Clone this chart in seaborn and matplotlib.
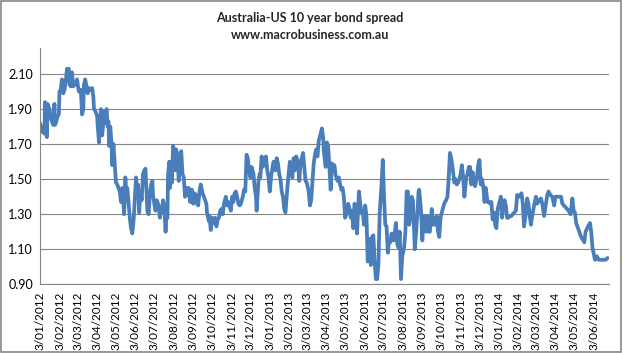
import matplotlib
matplotlib.use("Agg")
import matplotlib.pyplot as plt
import numpy as np
import pandas as pd
import seaborn as sns
from matplotlib.patches import Rectangle

sns.set_theme(style="white")
plt.rcParams['font.family'] = ['Lato', 'DejaVu Sans']

# Data: days after 3 Jan 2012 and the spread (%)
start_date = "2012-01-03"
day_offset = [
    0, 3, 5, 7, 8, 11, 12, 15, 17, 19, 21, 23, 24, 26, 28, 30, 31, 33, 35, 37,
    39, 41, 43, 46, 47, 49, 51, 53, 55, 57, 59, 61, 62, 65, 67, 69, 70, 72, 74, 76,
    78, 81, 83, 85, 86, 88, 91, 92, 94, 95, 97, 99, 101, 103, 104, 106, 108, 109, 110, 112,
    114, 115, 117, 119, 121, 123, 125, 127, 129, 131, 132, 134, 136, 138, 139, 141, 143, 145, 147, 149,
    153, 155, 156, 158, 160, 162, 164, 166, 168, 171, 173, 175, 177, 179, 180, 182, 184, 186, 189, 191,
    192, 194, 196, 198, 200, 201, 203, 204, 206, 207, 209, 210, 212, 214, 216, 217, 219, 221, 224, 225,
    227, 229, 231, 233, 235, 237, 239, 242, 244, 246, 248, 250, 252, 254, 256, 259, 261, 263, 265, 266,
    269, 270, 272, 274, 277, 279, 281, 283, 285, 287, 289, 291, 293, 296, 298, 300,
    304, 306, 308, 310, 312, 314, 316, 318, 320, 323, 325, 327, 329, 331, 333, 335, 337, 340, 342, 344,
    345, 348, 350, 351, 353, 355, 358, 360, 362, 364, 366, 368, 370, 372, 375, 377, 379, 381, 383, 385,
    387, 389, 391, 394, 396, 398, 400, 402, 404, 406, 408, 411, 413, 415, 417, 419, 421, 423, 425, 428,
    430, 432, 434, 436, 438, 440, 442, 444, 447, 449, 451,
    452, 455, 457, 459, 461, 463, 465, 467, 469, 471, 474, 476, 478, 480, 482, 484, 486, 488, 491, 493,
    495, 497, 499, 501, 503, 505, 508, 510, 512, 514, 516, 518, 520, 522, 524, 527, 529, 531, 533, 535,
    537, 539, 541, 544, 546, 548, 550, 552, 554, 556, 558, 560, 563, 565, 567, 569, 571, 573, 575, 577,
    580, 582, 584, 586, 588, 590, 592, 594, 597, 599, 601, 603,
    604, 607, 609, 611, 613, 615, 617, 619, 621, 624, 626, 628, 630, 632, 634, 636, 638, 640, 643, 645,
    647, 649, 651, 653, 655, 657, 660, 662, 664, 666, 668, 670, 672, 674, 676, 679, 681, 683, 685, 687,
    689, 691, 693, 696, 698, 700, 702, 704, 706, 708, 710, 713, 715, 717, 719, 721, 723, 725, 727, 729,
    732, 734, 736, 738, 740, 742, 744, 746, 749, 751, 753,
    758, 760, 763, 767, 769, 771, 773, 776, 778, 780, 782, 784, 787, 790, 792, 795, 798, 800, 803, 805,
    808, 810, 813, 816, 819, 821, 824, 826, 830, 832, 837, 842, 845, 848, 850, 852, 854, 858, 862, 867,
    869, 873, 876, 878, 880, 884, 887, 890, 895, 901, 904,
]
spread = [
    1.82, 1.77, 1.80, 1.76, 1.94, 1.74, 1.93, 1.90, 1.85, 1.83, 1.81, 1.93, 1.81, 1.83, 1.86, 1.87, 2.00, 2.01, 2.07, 1.99,
    2.01, 2.06, 2.13, 2.13, 2.04, 2.03, 2.11, 2.03, 2.05, 2.04, 2.07, 2.02, 2.00, 2.01, 1.87, 1.90, 2.04, 2.07, 2.03, 1.99,
    2.02, 2.01, 2.02, 1.97, 1.90, 1.89, 1.86, 1.80, 1.71, 1.80, 1.90, 1.75, 1.82, 1.89, 1.82, 1.90, 1.80, 1.83, 1.69, 1.80,
    1.70, 1.58, 1.70, 1.59, 1.48, 1.47, 1.45, 1.43, 1.37, 1.45, 1.41, 1.30, 1.51, 1.38, 1.45, 1.37, 1.28, 1.22, 1.19, 1.26,
    1.51, 1.40, 1.47, 1.31, 1.43, 1.38, 1.53, 1.55, 1.56, 1.32, 1.30, 1.41, 1.47, 1.49, 1.41, 1.36, 1.32, 1.38, 1.35, 1.28,
    1.34, 1.31, 1.38, 1.35, 1.20, 1.27, 1.28, 1.53, 1.60, 1.45, 1.59, 1.48, 1.69, 1.66, 1.55, 1.67, 1.62, 1.49, 1.65, 1.66,
    1.53, 1.51, 1.40, 1.45, 1.41, 1.45, 1.37, 1.44, 1.36, 1.42, 1.41, 1.36, 1.35, 1.43, 1.47, 1.42, 1.40, 1.38, 1.36, 1.31,
    1.26, 1.29, 1.21, 1.28, 1.25, 1.28, 1.23, 1.27, 1.28, 1.32, 1.33, 1.30, 1.36, 1.40, 1.35, 1.37,
    1.32, 1.40, 1.37, 1.42, 1.43, 1.40, 1.36, 1.35, 1.36, 1.40, 1.44, 1.43, 1.64, 1.62, 1.55, 1.51, 1.57, 1.53, 1.45, 1.40,
    1.32, 1.49, 1.53, 1.51, 1.63, 1.57, 1.62, 1.63, 1.55, 1.51, 1.43, 1.51, 1.56, 1.60, 1.55, 1.62, 1.59, 1.53, 1.50, 1.43,
    1.40, 1.33, 1.31, 1.45, 1.53, 1.60, 1.57, 1.51, 1.62, 1.55, 1.63, 1.60, 1.49, 1.59, 1.62, 1.65, 1.57, 1.49, 1.48, 1.43,
    1.35, 1.38, 1.49, 1.59, 1.64, 1.67, 1.63, 1.72, 1.76, 1.79, 1.74,
    1.66, 1.57, 1.71, 1.69, 1.57, 1.44, 1.59, 1.56, 1.58, 1.52, 1.49, 1.51, 1.47, 1.44, 1.45, 1.40, 1.28, 1.30, 1.36, 1.33,
    1.28, 1.32, 1.22, 1.36, 1.31, 1.19, 1.43, 1.36, 1.31, 1.32, 1.24, 1.35, 1.29, 1.03, 1.16, 1.01, 1.17, 1.18, 1.03, 0.93,
    0.93, 1.01, 1.30, 1.47, 1.61, 1.40, 1.24, 1.23, 1.08, 1.15, 1.14, 1.19, 1.15, 1.19, 1.25, 1.13, 1.11, 1.20, 0.93, 1.06,
    1.11, 1.20, 1.43, 1.43, 1.24, 1.28, 1.40, 1.38, 1.10, 1.19, 1.30, 1.43,
    1.44, 1.32, 1.15, 1.28, 1.29, 1.20, 1.29, 1.20, 1.20, 1.33, 1.24, 1.28, 1.24, 1.29, 1.20, 1.17, 1.28, 1.31, 1.35, 1.37,
    1.38, 1.40, 1.51, 1.65, 1.62, 1.57, 1.48, 1.50, 1.47, 1.48, 1.50, 1.53, 1.58, 1.51, 1.40, 1.51, 1.53, 1.57, 1.57, 1.47,
    1.54, 1.49, 1.46, 1.51, 1.58, 1.61, 1.47, 1.50, 1.46, 1.37, 1.45, 1.37, 1.37, 1.36, 1.37, 1.27, 1.31, 1.24, 1.22, 1.33,
    1.37, 1.40, 1.28, 1.36, 1.38, 1.35, 1.28, 1.28, 1.29, 1.29, 1.30,
    1.32, 1.41, 1.40, 1.42, 1.36, 1.23, 1.28, 1.39, 1.36, 1.29, 1.24, 1.29, 1.35, 1.40, 1.36, 1.38, 1.39, 1.36, 1.29, 1.34,
    1.41, 1.43, 1.41, 1.40, 1.35, 1.40, 1.40, 1.40, 1.40, 1.36, 1.34, 1.32, 1.30, 1.39, 1.32, 1.31, 1.25, 1.21, 1.17, 1.14,
    1.20, 1.23, 1.25, 1.20, 1.11, 1.04, 1.06, 1.04, 1.04, 1.04, 1.05,
]
y_ticks = [0.90, 1.10, 1.30, 1.50, 1.70, 1.90, 2.10]
tick_months = pd.date_range("2012-01-01", "2014-06-01", freq="MS") + pd.Timedelta(days=2)

df = pd.DataFrame({
    "date": pd.Timestamp(start_date) + pd.to_timedelta(day_offset, unit="D"),
    "spread": spread,
})

fig = plt.figure(figsize=(6.23, 3.53), dpi=100)
ax = fig.add_axes([0.0642, 0.1946, 0.9130, 0.670])

sns.lineplot(data=df, x="date", y="spread", ax=ax, color="#4a7ebb",
             linewidth=2.7, estimator=None, sort=False)

# axes formatting, Excel look
ax.set_ylim(0.90, 2.25)
ax.set_yticks(y_ticks)
ax.set_yticklabels([f"{v:.2f}" for v in y_ticks])
ax.set_xlim(df["date"].iloc[0], df["date"].iloc[-1] + pd.Timedelta(days=2))
ax.set_xticks(tick_months)
ax.set_xticklabels([f"{d.day}/{d.month:02d}/{d.year}" for d in tick_months],
                   rotation=90)
ax.grid(axis="y", color="#868686", linewidth=0.8)
ax.set_axisbelow(True)
ax.tick_params(axis="both", length=0, colors="#000000")
ax.tick_params(axis="x", pad=5, labelsize=8.5)
ax.tick_params(axis="y", pad=5, labelsize=9)
for side in ["top", "right"]:
    ax.spines[side].set_visible(False)
ax.spines["left"].set_color("#868686")
ax.spines["left"].set_linewidth(0.8)
ax.spines["bottom"].set_color("#868686")
ax.spines["bottom"].set_linewidth(0.8)
ax.set_xlabel("")
ax.set_ylabel("")

fig.text(0.497, 0.948, "Australia-US 10 year bond spread", ha="center", va="center",
         fontsize=9, fontweight="bold")
fig.text(0.497, 0.900, "www.macrobusiness.com.au", ha="center", va="center",
         fontsize=9, fontweight="bold")

# chart border
fig.patches.append(Rectangle((0.002, 0.004), 0.994, 0.992, transform=fig.transFigure,
                             fill=False, edgecolor="#888888", linewidth=1.2))

fig.savefig("out.png", dpi=100)
